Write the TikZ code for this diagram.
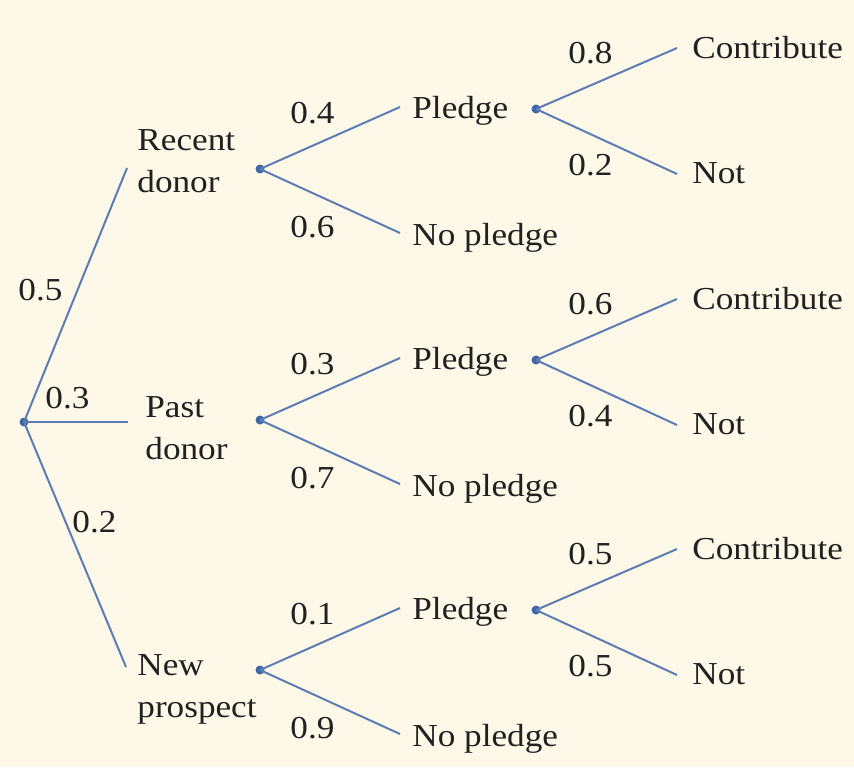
\documentclass[tikz,border=0pt]{standalone}
\usepackage{fontspec}
\setmainfont{Liberation Serif}[FakeStretch=1.1]
\definecolor{bg}{HTML}{FDF8E8}
\definecolor{branch}{HTML}{5C7DB4}
\definecolor{dotc}{HTML}{3E67A9}
\definecolor{ink}{HTML}{222120}
\begin{document}
\begin{tikzpicture}[x=0.5pt,y=-0.5pt,
  txt/.style={anchor=base west,inner sep=0pt,text=ink,font={\fontsize{16}{21}\selectfont}},
  twoline/.style={anchor=north west,inner sep=0pt,text=ink,align=left,font={\fontsize{16}{21}\selectfont}},
  dotnode/.style={circle,fill=dotc,inner sep=0pt,minimum size=4.5pt},
  br/.style={draw=branch,line width=1pt}]
\fill[bg] (0,0) rectangle (854,767);
\useasboundingbox (0,0) rectangle (854,767);
% root
\node[dotnode] (root) at (24,422) {};
\coordinate (e1) at (127,168);
\coordinate (e2) at (128,422);
\coordinate (e3) at (126,667);
\draw[br] (root.center) -- (e1);
\draw[br] (root.center) -- (e2);
\draw[br] (root.center) -- (e3);
\node[txt] (l05) at (18,300) {0.5};
\node[txt] (l03) at (45,408) {0.3};
\node[txt] (l02) at (72,532) {0.2};
\node[twoline] (rd) at (137,129) {Recent\\donor};
\node[twoline] (pd) at (145,396) {Past\\donor};
\node[twoline] (nw) at (137,654) {New\\prospect};
% blocks
\foreach \b/\o/\pa/\pb/\ca/\cb in {1/0/0.4/0.6/0.8/0.2, 2/251/0.3/0.7/0.6/0.4, 3/501/0.1/0.9/0.5/0.5}{
  \begin{scope}[yshift={-0.5pt*\o}]
    \node[dotnode] (m\b) at (260,169) {};
    \node[dotnode] (p\b) at (536,109) {};
    \coordinate (pe\b) at (400,107);
    \coordinate (ne\b) at (400,233);
    \coordinate (ce\b) at (677,48);
    \coordinate (te\b) at (677,174);
    \draw[br] (m\b.center) -- (pe\b);
    \draw[br] (m\b.center) -- (ne\b);
    \draw[br] (p\b.center) -- (ce\b);
    \draw[br] (p\b.center) -- (te\b);
    \node[txt] (pl\b) at (412,118) {Pledge};
    \node[txt] (np\b) at (412,245) {No pledge};
    \node[txt] (co\b) at (692,58) {Contribute};
    \node[txt] (no\b) at (692,183) {Not};
    \node[txt] (a\b) at (290,123) {\pa};
    \node[txt] (b\b) at (290,237) {\pb};
    \node[txt] (c\b) at (568,63) {\ca};
    \node[txt] (d\b) at (568,175) {\cb};
  \end{scope}
}
\end{tikzpicture}
\end{document}
